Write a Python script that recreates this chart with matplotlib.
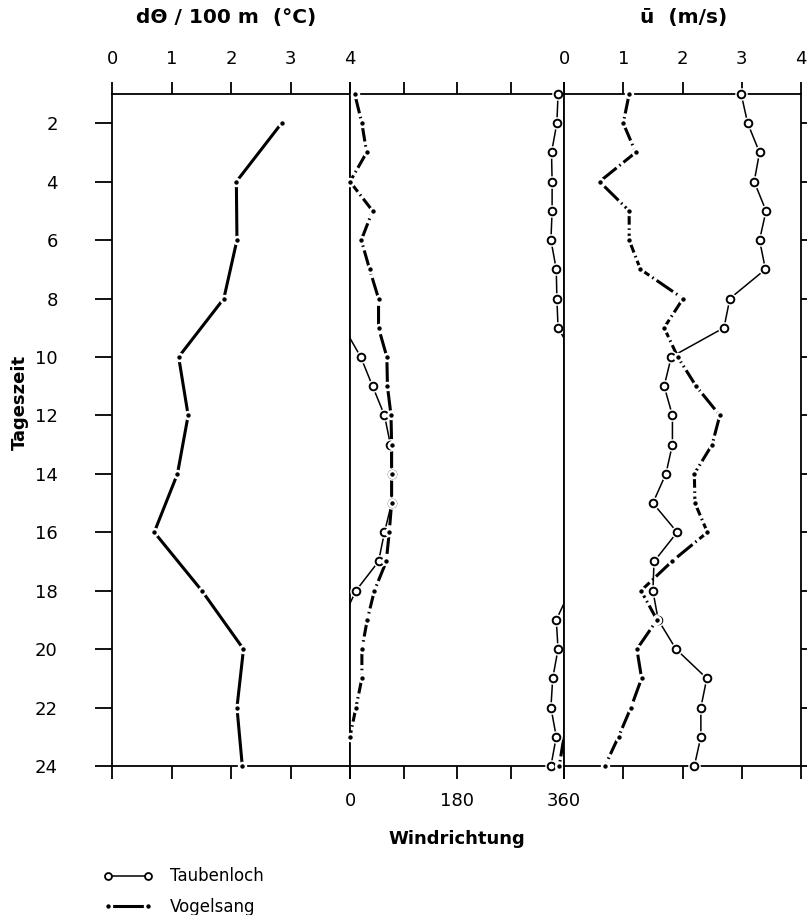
import numpy as np
import matplotlib
matplotlib.use('Agg')
import matplotlib.pyplot as plt
from matplotlib.lines import Line2D

# Tageszeit (hours) and the three measured quantities
hours = np.arange(1, 25)
theta_hours = np.arange(2, 25, 2)
dtheta = [2.85, 2.09, 2.10, 1.88, 1.12, 1.28, 1.10, 0.71, 1.51, 2.21, 2.10, 2.19]

dir_taubenloch = [350, 348, 339, 340, 340, 338, 347, 348, 350, 18, 38, 58,
                  68, 70, 70, 58, 48, 10, 347, 350, 341, 338, 347, 338]
dir_vogelsang = [8, 20, 28, 0, 38, 19, 33, 48, 48, 62, 63, 69,
                 70, 70, 70, 66, 61, 41, 29, 20, 20, 10, 0, 352]

u_taubenloch = [2.99, 3.10, 3.30, 3.21, 3.41, 3.30, 3.40, 2.80, 2.70, 1.81, 1.69, 1.83,
                1.83, 1.72, 1.50, 1.91, 1.52, 1.50, 1.59, 1.89, 2.41, 2.31, 2.31, 2.20]
u_vogelsang = [1.10, 1.00, 1.21, 0.60, 1.10, 1.10, 1.29, 2.01, 1.69, 1.92, 2.23, 2.63,
               2.50, 2.20, 2.21, 2.42, 1.82, 1.30, 1.57, 1.23, 1.31, 1.13, 0.92, 0.69]

FS = 13


def wrap_segments(h, d):
    """Split a wind direction series where it crosses 0/360."""
    segs = []
    cur_h, cur_d = [h[0]], [d[0]]
    for i in range(1, len(h)):
        d0, d1 = d[i - 1], d[i]
        step = (d1 - d0 + 180) % 360 - 180
        end = d0 + step
        if end < 0 or end > 360:
            b = 0 if end < 0 else 360
            hc = h[i - 1] + (b - d0) / step * (h[i] - h[i - 1])
            cur_h.append(hc)
            cur_d.append(b)
            segs.append((cur_h, cur_d))
            cur_h, cur_d = [hc], [360 - b]
        cur_h.append(h[i])
        cur_d.append(d1)
    segs.append((cur_h, cur_d))
    return segs


def circles(ax, x, y):
    ax.plot(x, y, ls='none', marker='o', ms=9, mfc='white', mec='none', clip_on=False, zorder=3)
    ax.plot(x, y, ls='none', marker='o', ms=5.5, mfc='white', mec='k', mew=1.4, clip_on=False, zorder=4)


def dots(ax, x, y):
    ax.plot(x, y, ls='none', marker='o', ms=5, mfc='k', mec='white', mew=1.8, clip_on=False, zorder=5)


dashdot = (0, (6.5, 1.2, 0.5, 1.2))

W, H = 807, 915
fig = plt.figure(figsize=(W / 100, H / 100), dpi=100)
bot = 1 - 766 / H
hgt = (766 - 94) / H
ax1 = fig.add_axes([112 / W, bot, (350 - 112) / W, hgt])
ax2 = fig.add_axes([350 / W, bot, (564 - 350) / W, hgt])
ax3 = fig.add_axes([564 / W, bot, (801 - 564) / W, hgt])

for ax in (ax1, ax2, ax3):
    ax.set_ylim(24, 1)
    for s in ax.spines.values():
        s.set_linewidth(1.3)
    ax.tick_params(direction='out', length=9, width=1.3, labelsize=FS)

# left panel: d theta / 100 m
ax1.plot(dtheta, theta_hours, color='k', lw=2.2, clip_on=False, zorder=2)
dots(ax1, dtheta, theta_hours)
ax1.set_xlim(0, 4)
ax1.set_xticks(range(5))
ax1.tick_params(axis='x', top=True, labeltop=True, bottom=True, labelbottom=False, pad=10)
ax1.tick_params(axis='y', left=True, right=False, length=12, pad=27)
ax1.set_yticks(range(2, 25, 2))

# middle panel: wind direction
for sh, sd in wrap_segments(hours, dir_taubenloch):
    ax2.plot(sd, sh, color='k', lw=1.1, clip_on=False, zorder=2)
circles(ax2, dir_taubenloch, hours)
for sh, sd in wrap_segments(hours, dir_vogelsang):
    ax2.plot(sd, sh, color='k', lw=2.2, ls=dashdot, clip_on=False, zorder=2)
dots(ax2, dir_vogelsang, hours)
ax2.set_xlim(0, 360)
ax2.set_xticks([0, 90, 180, 270, 360])
ax2.set_xticklabels(['0', '', '180', '', '360'])
ax2.tick_params(axis='x', top=True, labeltop=False, bottom=True, labelbottom=True, pad=10)
ax2.set_yticks([])
ax2.set_xlabel('Windrichtung', fontsize=FS, fontweight='bold', labelpad=14)

# right panel: mean wind speed
ax3.plot(u_taubenloch, hours, color='k', lw=1.1, clip_on=False, zorder=2)
circles(ax3, u_taubenloch, hours)
ax3.plot(u_vogelsang, hours, color='k', lw=2.2, ls=dashdot, clip_on=False, zorder=2)
dots(ax3, u_vogelsang, hours)
ax3.set_xlim(0, 4)
ax3.set_xticks(range(5))
ax3.tick_params(axis='x', top=True, labeltop=True, bottom=True, labelbottom=False, pad=10)
ax3.set_yticks(range(2, 25, 2))
ax3.tick_params(axis='y', left=False, labelleft=False, right=True, labelright=False, length=7)

fig.text(20 / W, 1 - 402 / H, 'Tageszeit', fontsize=FS, fontweight='bold',
         rotation=90, ha='center', va='center')
fig.text(226 / W, 1 - 18 / H, 'd\u0398 / 100 m  (\u00b0C)', fontsize=14.5, fontweight='bold',
         ha='center', va='center')
fig.text(684 / W, 1 - 18 / H, '\u016b  (m/s)', fontsize=14.5, fontweight='bold',
         ha='center', va='center')

handles = [
    Line2D([], [], color='k', lw=1.1, marker='o', ms=5, mfc='white', mec='k', mew=1.3),
    Line2D([], [], color='k', lw=2.2, marker='o', ms=5, mfc='k', mec='white', mew=1.8),
]
fig.legend(handles, ['Taubenloch', 'Vogelsang'], loc='upper left',
           bbox_to_anchor=(100 / W, 1 - 864 / H), frameon=False, numpoints=2,
           handlelength=3.0, fontsize=12, labelspacing=0.75, handletextpad=1.0,
           borderaxespad=0, borderpad=0.2)

fig.savefig('out.png', dpi=100)
